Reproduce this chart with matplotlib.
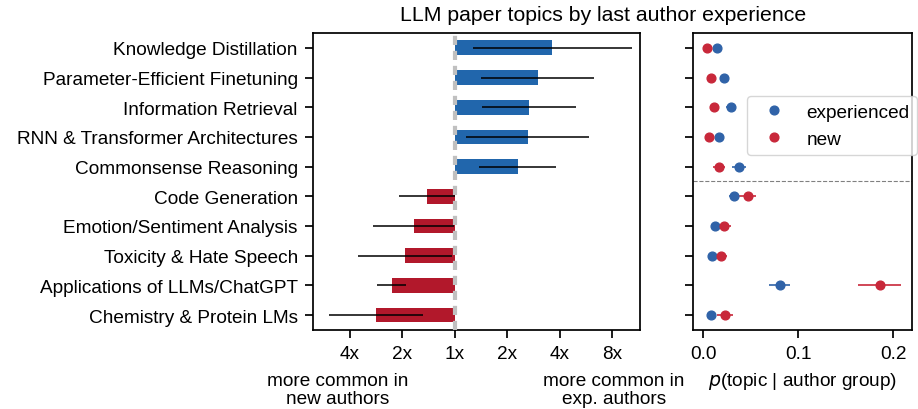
import matplotlib
matplotlib.use("Agg")
import matplotlib.pyplot as plt
from matplotlib.ticker import FixedLocator, FixedFormatter, NullLocator
import numpy as np

plt.rcParams['font.family'] = ['Liberation Sans', 'DejaVu Sans']

# topics, top to bottom
topics = ["Knowledge Distillation", "Parameter-Efficient Finetuning",
          "Information Retrieval", "RNN & Transformer Architectures",
          "Commonsense Reasoning", "Code Generation",
          "Emotion/Sentiment Analysis", "Toxicity & Hate Speech",
          "Applications of LLMs/ChatGPT", "Chemistry & Protein LMs"]

# ratio p(exp)/p(new) with confidence interval
ratio = [3.63, 2.99, 2.66, 2.62, 2.30, 0.69, 0.58, 0.52, 0.435, 0.354]
ratio_lo = [1.28, 1.42, 1.44, 1.16, 1.38, 0.48, 0.34, 0.28, 0.36, 0.19]
ratio_hi = [10.4, 6.32, 4.92, 5.86, 3.81, 1.00, 0.99, 0.96, 0.525, 0.655]

# p(topic | author group)
p_exp = [0.0141, 0.0215, 0.0288, 0.0168, 0.0376, 0.0320, 0.0130, 0.0095, 0.0804, 0.0084]
p_exp_err = [0.002, 0.004, 0.005, 0.003, 0.007, 0.005, 0.003, 0.003, 0.011, 0.002]
p_new = [0.0042, 0.0078, 0.0113, 0.0067, 0.0168, 0.0467, 0.0222, 0.0186, 0.1856, 0.0232]
p_new_err = [0.002, 0.002, 0.004, 0.002, 0.006, 0.009, 0.0075, 0.007, 0.0228, 0.0084]

tick_vals = [0.25, 0.5, 1, 2, 4, 8]
tick_labels = ["4x", "2x", "1x", "2x", "4x", "8x"]

BLUE_BAR, RED_BAR = "#2166ac", "#b2182b"
BLUE_DOT, RED_DOT = "#3063a8", "#c8283a"
FS = 13.7

fig = plt.figure(figsize=(9.18, 4.10), dpi=100)
ax1 = fig.add_axes([0.341, 0.193, 0.356, 0.724])
ax2 = fig.add_axes([0.755, 0.193, 0.238, 0.724])

y = np.arange(len(topics))
r = np.array(ratio)
colors = [BLUE_BAR if v > 1 else RED_BAR for v in r]
ax1.set_xscale('log', base=2)
ax1.barh(y, r - 1, left=1, height=0.5, color=colors, zorder=2)
ax1.hlines(y, ratio_lo, ratio_hi, color='black', lw=1.1, zorder=3)
ax1.axvline(1, color='#c0c0c0', lw=3, ls=(0, (2.2, 1.4)), zorder=4)
ax1.set_xlim(0.154, 11.5)
ax1.set_ylim(len(topics) - 0.5, -0.5)
ax1.set_yticks(y)
ax1.set_yticklabels(topics)
ax1.xaxis.set_major_locator(FixedLocator(tick_vals))
ax1.xaxis.set_major_formatter(FixedFormatter(tick_labels))
ax1.xaxis.set_minor_locator(NullLocator())

ax2.errorbar(p_exp, y, xerr=p_exp_err, fmt='o', color=BLUE_DOT, ms=6.3, lw=1.2,
             label='experienced', zorder=3)
ax2.errorbar(p_new, y, xerr=p_new_err, fmt='o', color=RED_DOT, ms=6.3, lw=1.2,
             label='new', zorder=3)
ax2.axhline(4.5, color='gray', lw=0.8, ls='--')
ax2.set_ylim(len(topics) - 0.5, -0.5)
ax2.set_yticks(y)
ax2.set_yticklabels([])
ax2.set_xlim(-0.0105, 0.219)
ax2.set_xticks([0.0, 0.1, 0.2])
ax2.set_xlabel(r'$p$(topic | author group)', fontsize=FS, labelpad=6)

for ax in (ax1, ax2):
    for s in ax.spines.values():
        s.set_linewidth(1.25)
    ax.tick_params(length=6, width=1.25, labelsize=FS, pad=5)

handles, labels = ax2.get_legend_handles_labels()
handles = [h[0] for h in handles]
leg = fig.legend(handles, labels, loc='upper left', bbox_to_anchor=(0.814, 0.764),
                 fontsize=FS, handletextpad=0.7, borderaxespad=0, frameon=True,
                 edgecolor='#cccccc')

fig.text(0.368, 0.048, "more common in\nnew authors", ha='center', va='center',
         fontsize=FS, linespacing=1.05)
fig.text(0.669, 0.048, "more common in\nexp. authors", ha='center', va='center',
         fontsize=FS, linespacing=1.05)
fig.text(0.657, 0.962, "LLM paper topics by last author experience", ha='center',
         va='center', fontsize=15.3)

fig.savefig("out.png", dpi=100)
